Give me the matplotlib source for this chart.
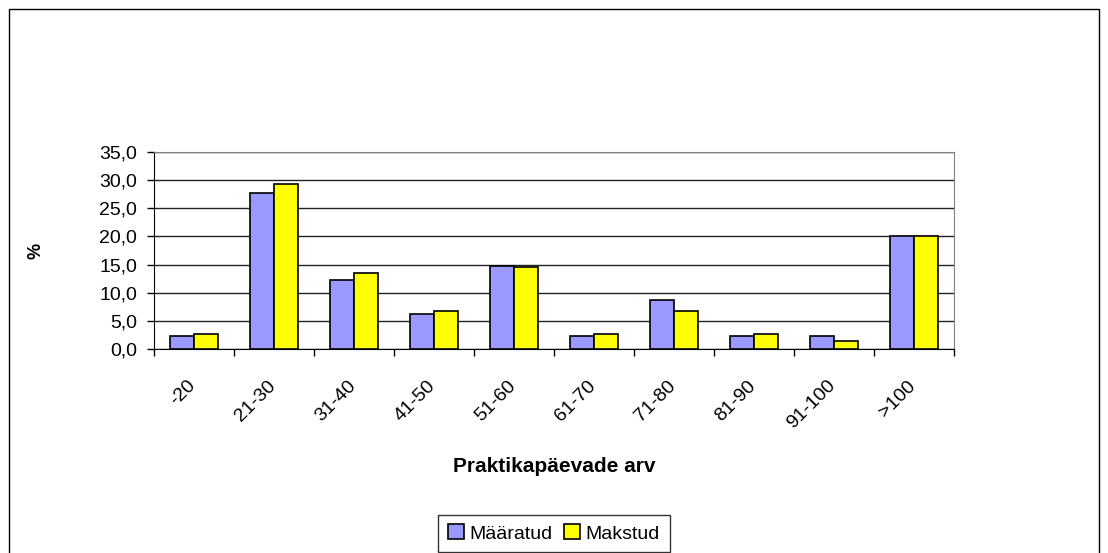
import matplotlib
matplotlib.use("Agg")
import matplotlib.pyplot as plt
import numpy as np
from matplotlib.patches import Rectangle
from matplotlib.transforms import ScaledTranslation

plt.rcParams['font.family'] = ['Liberation Sans', 'DejaVu Sans']

categories = ["-20", "21-30", "31-40", "41-50", "51-60", "61-70", "71-80", "81-90", "91-100", ">100"]
maaratud = [2.4, 27.6, 12.3, 6.3, 14.8, 2.4, 8.8, 2.4, 2.4, 20.0]
makstud = [2.8, 29.3, 13.5, 6.7, 14.5, 2.8, 6.7, 2.8, 1.4, 20.0]
yticks = [0, 5, 10, 15, 20, 25, 30, 35]

fig = plt.figure(figsize=(11.08, 5.53), dpi=100)
# outer chart frame
fig.patches.append(Rectangle((9 / 1108, -0.01), 1090 / 1108, 1 - 9 / 553 + 0.01,
                             transform=fig.transFigure, fill=False, edgecolor='black', linewidth=1))

ax = fig.add_axes([0.139, 0.3683, 0.722, 0.3574])
x = np.arange(len(categories))
w = 0.3
ax.bar(x - w / 2, maaratud, w, color='#9999ff', edgecolor='black', linewidth=1.2, label='Määratud', zorder=3)
ax.bar(x + w / 2, makstud, w, color='#ffff00', edgecolor='black', linewidth=1.2, label='Makstud', zorder=3)

ax.set_xlim(-0.5, len(categories) - 0.5)
ax.set_ylim(0, 35)
ax.set_yticks(yticks)
ax.set_yticklabels([f"{v:.1f}".replace('.', ',') for v in yticks], fontsize=14)
ax.yaxis.grid(True, color='#222222', linewidth=1, zorder=0)
ax.set_axisbelow(True)

ax.set_xticks(x)
ax.set_xticklabels(categories, rotation=45, ha='right', va='top', rotation_mode='anchor', fontsize=14)
ax.tick_params(axis='x', length=0, pad=20)
shift = ScaledTranslation(-7 / 100, 0, fig.dpi_scale_trans)
for lab in ax.get_xticklabels():
    lab.set_transform(lab.get_transform() + shift)
ax.set_xticks(np.arange(-0.5, len(categories)), minor=True)
ax.tick_params(axis='x', which='minor', length=5, direction='out', width=1)
ax.tick_params(axis='y', length=5, direction='out', width=1, pad=7)

for s in ['top', 'right']:
    ax.spines[s].set_color('#808080')
for s in ['left', 'bottom']:
    ax.spines[s].set_color('black')

fig.text(554 / 1108, 1 - 467 / 553, "Praktikapäevade arv", fontsize=15, fontweight='bold',
         ha='center', va='center')
fig.text(36 / 1108, 1 - 251 / 553, "%", fontsize=13, fontweight='bold',
         ha='center', va='center', rotation=90)

leg = fig.legend(loc='upper center', bbox_to_anchor=(554 / 1108, 1 - 505 / 553), ncol=2, frameon=True,
                 fancybox=False, edgecolor='black', fontsize=14, handlelength=0.8,
                 handleheight=0.8, handletextpad=0.3, columnspacing=0.6, borderpad=0.5)
leg.get_frame().set_linewidth(1)

fig.savefig("out.png", dpi=100)
